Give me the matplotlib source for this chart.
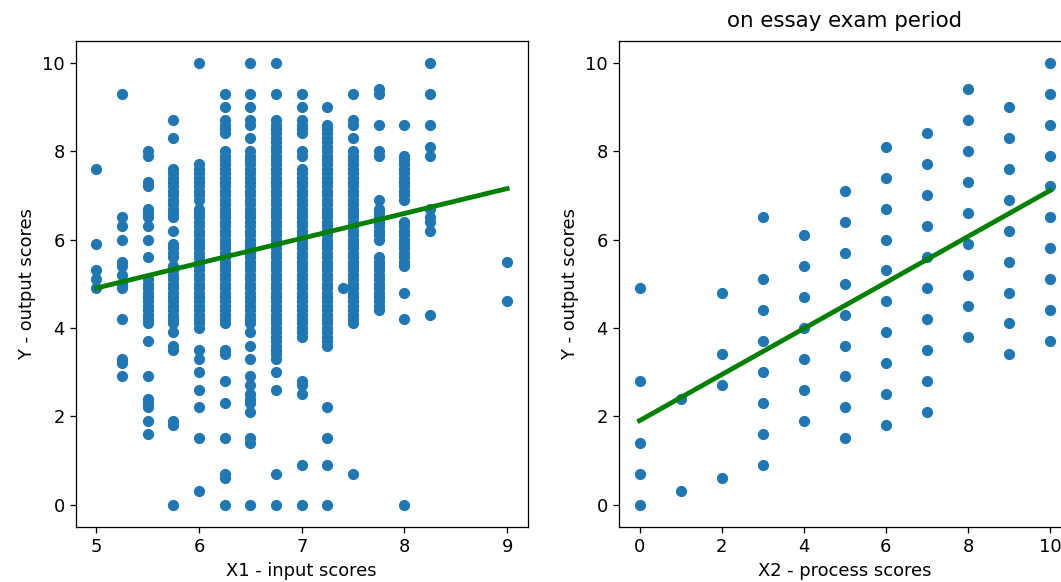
import numpy as np
import matplotlib.pyplot as plt

# left panel: X1 input scores, y values seen in each column
x1_cols = [5.0, 5.25, 5.5, 5.75, 6.0, 6.25, 6.5, 6.75, 7.0, 7.25, 7.4, 7.5, 7.75, 8.0, 8.25, 9.0]
y1_500 = [7.6, 5.9, 5.3, 5.1, 4.9]
y1_525 = [9.3, 6.5, 6.3, 6.0, 5.5, 5.4, 5.2, 5.0, 4.9, 4.2, 3.3, 3.2, 2.9]
y1_550 = [8.0, 7.9, 7.3, 7.2, 6.7, 6.6, 6.5, 6.3, 6.0, 5.6, 5.1, 5.0, 4.9, 4.8, 4.7, 4.6, 4.5,
          4.4, 4.3, 4.2, 4.1, 3.7, 2.9, 2.4, 2.3, 2.2, 1.9, 1.6]
y1_575 = [8.7, 8.3, 7.6, 7.5, 7.4, 7.3, 7.2, 7.1, 7.0, 6.9, 6.8, 6.7, 6.6, 6.5, 6.2, 5.9, 5.8,
          5.7, 5.6, 5.4, 5.3, 5.2, 5.1, 5.0, 4.9, 4.8, 4.7, 4.6, 4.5, 4.4, 4.3, 4.2, 4.1, 3.9,
          3.6, 3.5, 1.9, 1.8, 0.0]
y1_600 = [10.0, 7.7, 7.6, 7.5, 7.4, 7.3, 7.2, 7.1, 7.0, 6.9, 6.7, 6.6, 6.5, 6.4, 6.3, 6.2, 6.1,
          6.0, 5.9, 5.8, 5.7, 5.6, 5.5, 5.4, 5.3, 5.2, 5.1, 5.0, 4.9, 4.8, 4.7, 4.6, 4.5, 4.4,
          4.3, 4.2, 4.1, 4.0, 3.5, 3.3, 3.0, 2.6, 2.2, 1.5, 0.3]
y1_625 = [9.3, 9.0, 8.7, 8.6, 8.5, 8.4, 8.0, 7.9, 7.8, 7.7, 7.6, 7.5, 7.4, 7.3, 7.2, 7.1, 7.0,
          6.9, 6.8, 6.7, 6.6, 6.5, 6.4, 6.3, 6.2, 6.1, 6.0, 5.9, 5.8, 5.7, 5.6, 5.5, 5.4, 5.3,
          5.2, 5.1, 5.0, 4.9, 4.8, 4.7, 4.6, 4.5, 4.4, 4.3, 4.2, 4.1, 3.5, 3.4, 2.8, 2.3, 1.5,
          0.7, 0.6, 0.0]
y1_650 = [10.0, 9.3, 9.0, 8.7, 8.6, 8.3, 8.0, 7.9, 7.8, 7.7, 7.6, 7.5, 7.4, 7.3, 7.2, 7.1, 7.0,
          6.9, 6.8, 6.7, 6.6, 6.5, 6.4, 6.3, 6.2, 6.1, 6.0, 5.9, 5.8, 5.7, 5.6, 5.5, 5.4, 5.3,
          5.2, 5.1, 5.0, 4.9, 4.8, 4.7, 4.6, 4.5, 4.4, 4.3, 4.2, 4.1, 3.9, 3.6, 3.3, 2.9, 2.7,
          2.5, 2.4, 2.3, 2.1, 1.5, 1.4, 0.0]
y1_675 = [10.0, 9.3, 8.7, 8.6, 8.5, 8.4, 8.3, 8.2, 8.1, 8.0, 7.9, 7.8, 7.7, 7.6, 7.5, 7.4, 7.3,
          7.2, 7.1, 7.0, 6.9, 6.8, 6.7, 6.6, 6.5, 6.4, 6.3, 6.2, 6.1, 6.0, 5.9, 5.8, 5.7, 5.6,
          5.5, 5.4, 5.3, 5.2, 5.1, 5.0, 4.9, 4.8, 4.7, 4.6, 4.5, 4.4, 4.3, 4.2, 4.1, 4.0, 3.9,
          3.8, 3.7, 3.6, 3.5, 3.4, 3.3, 3.0, 2.6, 0.7, 0.0]
y1_700 = [9.3, 9.0, 8.7, 8.6, 8.5, 8.4, 8.0, 7.9, 7.6, 7.5, 7.4, 7.3, 7.2, 7.1, 7.0, 6.9, 6.8,
          6.7, 6.6, 6.5, 6.4, 6.3, 6.2, 6.1, 6.0, 5.9, 5.8, 5.7, 5.6, 5.5, 5.4, 5.3, 5.2, 5.1,
          5.0, 4.9, 4.8, 4.7, 4.6, 4.5, 4.4, 4.3, 4.2, 4.1, 4.0, 3.9, 3.8, 2.8, 2.7, 2.5, 0.9,
          0.0]
y1_725 = [9.0, 8.6, 8.5, 8.4, 8.3, 8.2, 8.1, 8.0, 7.9, 7.8, 7.7, 7.6, 7.5, 7.4, 7.3, 7.2, 7.1,
          7.0, 6.9, 6.8, 6.7, 6.6, 6.5, 6.4, 6.3, 6.2, 6.1, 6.0, 5.9, 5.8, 5.7, 5.6, 5.5, 5.4,
          5.3, 5.2, 5.1, 5.0, 4.9, 4.8, 4.7, 4.6, 4.5, 4.4, 4.3, 4.2, 4.1, 4.0, 3.9, 3.8, 3.7,
          3.6, 2.2, 1.5, 0.9, 0.0]
y1_740 = [4.9]
y1_750 = [9.3, 8.7, 8.6, 8.3, 8.0, 7.9, 7.8, 7.7, 7.6, 7.5, 7.4, 7.3, 7.2, 7.1, 7.0, 6.9, 6.8,
          6.7, 6.6, 6.5, 6.4, 6.3, 6.2, 6.1, 6.0, 5.9, 5.8, 5.7, 5.6, 5.5, 5.4, 5.3, 5.2, 5.1,
          5.0, 4.9, 4.8, 4.7, 4.6, 4.5, 4.4, 4.3, 4.2, 4.1, 0.7]
y1_775 = [9.4, 9.3, 8.6, 8.0, 7.9, 6.9, 6.7, 6.6, 6.5, 6.4, 6.3, 6.2, 6.1, 6.0, 5.6, 5.5, 5.4,
          5.3, 5.2, 5.1, 5.0, 4.9, 4.8, 4.7, 4.6, 4.5, 4.4]
y1_800 = [8.6, 7.9, 7.8, 7.7, 7.6, 7.5, 7.4, 7.3, 7.2, 7.1, 7.0, 6.9, 6.4, 6.3, 6.2, 6.1, 6.0,
          5.9, 5.8, 5.7, 5.6, 5.5, 5.4, 4.8, 4.2, 0.0]
y1_825 = [10.0, 9.3, 8.6, 8.1, 7.9, 6.7, 6.5, 6.4, 6.2, 4.3]
y1_900 = [5.5, 4.6]
y1_by_col = [y1_500, y1_525, y1_550, y1_575, y1_600, y1_625, y1_650, y1_675,
             y1_700, y1_725, y1_740, y1_750, y1_775, y1_800, y1_825, y1_900]
x1_ticks = [5, 6, 7, 8, 9]

# right panel: X2 process scores
x2_cols = [0, 1, 2, 3, 4, 5, 6, 7, 8, 9, 10]
y2_0 = [0.0, 0.7, 1.4, 2.8, 4.9]
y2_1 = [0.3, 2.4]
y2_2 = [0.6, 2.7, 3.4, 4.8]
y2_3 = [0.9, 1.6, 2.3, 3.0, 3.7, 4.4, 5.1, 6.5]
y2_4 = [1.9, 2.6, 3.3, 4.0, 4.7, 5.4, 6.1]
y2_5 = [1.5, 2.2, 2.9, 3.6, 4.3, 5.0, 5.7, 6.4, 7.1]
y2_6 = [1.8, 2.5, 3.2, 3.9, 4.6, 5.3, 6.0, 6.7, 7.4, 8.1]
y2_7 = [2.1, 2.8, 3.5, 4.2, 4.9, 5.6, 6.3, 7.0, 7.7, 8.4]
y2_8 = [3.8, 4.5, 5.2, 5.9, 6.6, 7.3, 8.0, 8.7, 9.4]
y2_9 = [3.4, 4.1, 4.8, 5.5, 6.2, 6.9, 7.6, 8.3, 9.0]
y2_10 = [3.7, 4.4, 5.1, 5.8, 6.5, 7.2, 7.9, 8.6, 9.3, 10.0]
y2_by_col = [y2_0, y2_1, y2_2, y2_3, y2_4, y2_5, y2_6, y2_7, y2_8, y2_9, y2_10]

# fitted lines (intercept, slope)
fit1 = (2.09, 0.5625)
fit2 = (1.90, 0.521)

X1 = np.concatenate([[c] * len(v) for c, v in zip(x1_cols, y1_by_col)])
Y1 = np.concatenate(y1_by_col)
X2 = np.concatenate([[c] * len(v) for c, v in zip(x2_cols, y2_by_col)])
Y2 = np.concatenate(y2_by_col)

plt.rcParams['font.size'] = 11.2

fig = plt.figure(figsize=(1061 / 115, 582 / 115), dpi=115)
ax1 = fig.add_axes([0.0716, 0.0950, 0.4257, 0.8351])
ax2 = fig.add_axes([0.5834, 0.0950, 0.4257, 0.8351])

ax1.scatter(X1, Y1)
xs = np.array([min(x1_cols), max(x1_cols)])
ax1.plot(xs, fit1[0] + fit1[1] * xs, color='green', linewidth=3)
ax1.set_xticks(x1_ticks)
ax1.set_xlabel('X1 - input scores')
ax1.set_ylabel('Y - output scores')

ax2.scatter(X2, Y2)
xs = np.array([min(x2_cols), max(x2_cols)])
ax2.plot(xs, fit2[0] + fit2[1] * xs, color='green', linewidth=3)
ax2.set_xlabel('X2 - process scores')
ax2.set_ylabel('Y - output scores')
ax2.set_title('on essay exam period', fontsize=13.4, pad=8.5)

fig.savefig('out.png', dpi=115)
